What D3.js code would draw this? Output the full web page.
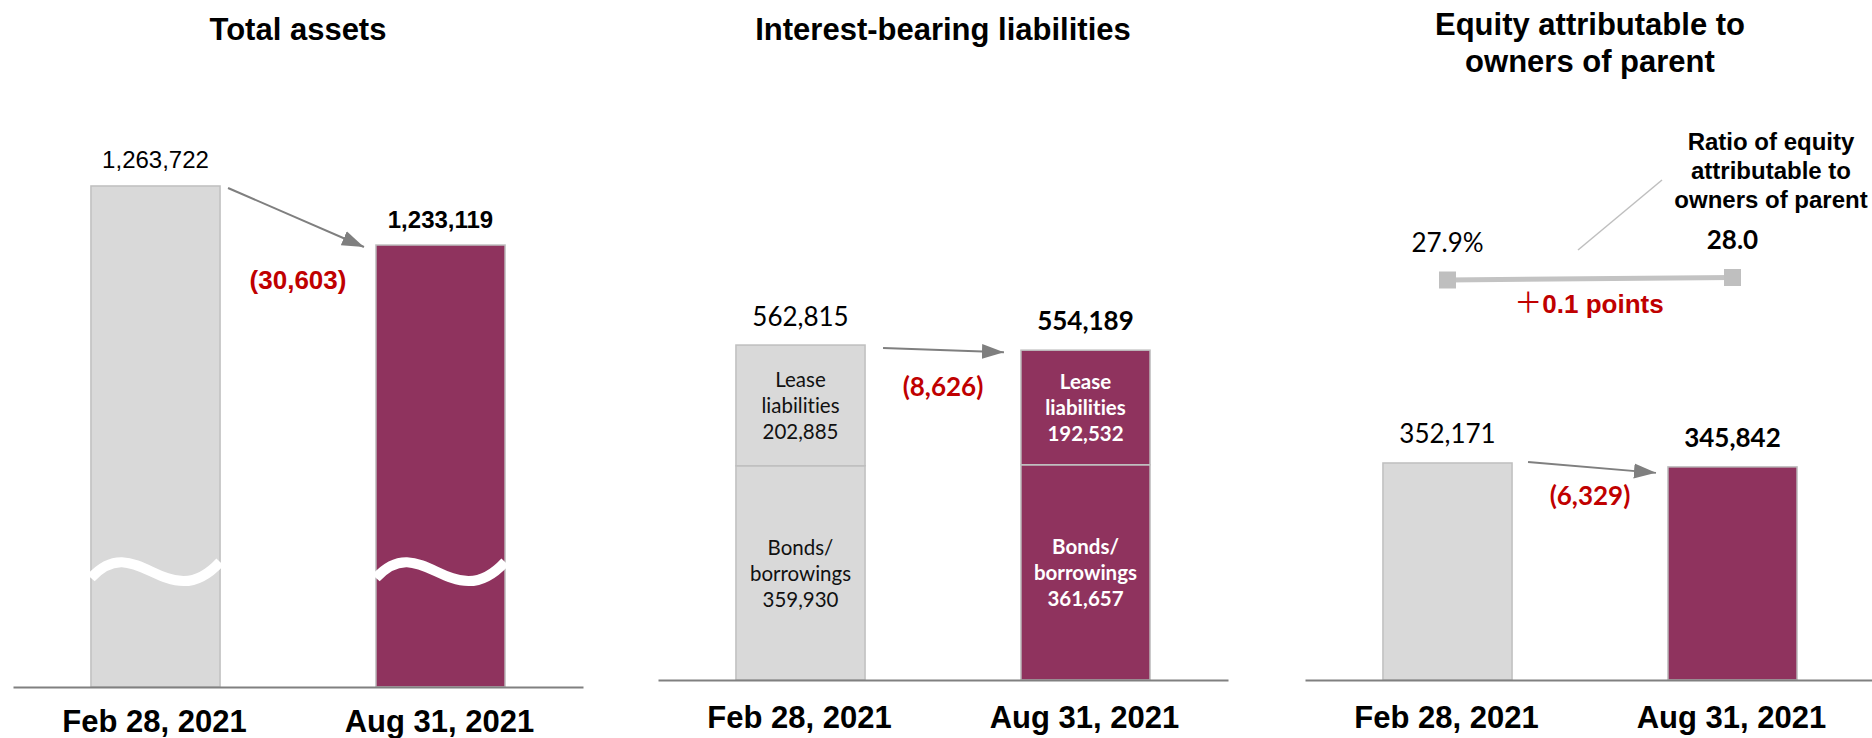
<!DOCTYPE html>
<html>
<head>
<meta charset="utf-8">
<script src="https://cdn.jsdelivr.net/npm/d3@7"></script>
<style>
  html, body { margin: 0; padding: 0; background: #fff; }
  svg { display: block; }
  text { font-variant-ligatures: none; }
</style>
</head>
<body>
<svg id="chart" width="1872" height="738"></svg>
<script>
// ---- data (millions of yen) ----
const categories = ["Feb 28, 2021", "Aug 31, 2021"];
const totalAssets = [1263722, 1233119];
const leaseLiabilities = [202885, 192532];
const bondsBorrowings = [359930, 361657];
const equityParent = [352171, 345842];
const equityRatio = [27.9, 28.0];

const panelTitles = [
  ["Total assets"],
  ["Interest-bearing liabilities"],
  ["Equity attributable to", "owners of parent"]
];
const segmentNames = { lease: ["Lease", "liabilities"], bonds: ["Bonds/", "borrowings"] };
const ratioLabel = ["Ratio of equity", "attributable to", "owners of parent"];

// ---- styles ----
const GRAY = "#d9d9d9", MAROON = "#8f335e", EDGE = "#bfbfbf", RED = "#c00000", ARROW = "#7f7f7f";
const ARIAL = "'Liberation Sans', Arial, sans-serif";
const CALIBRI = "Lato, 'Open Sans', sans-serif";
const fmt = d3.format(",");
const fmtDelta = d => (d < 0 ? "(" + fmt(-d) + ")" : "+" + fmt(d));

const svg = d3.select("#chart");
svg.append("rect").attr("width", 1872).attr("height", 738).attr("fill", "#fff");

svg.append("defs").append("marker")
  .attr("id", "head")
  .attr("markerUnits", "userSpaceOnUse")
  .attr("markerWidth", 22).attr("markerHeight", 16)
  .attr("refX", 22).attr("refY", 8)
  .attr("orient", "auto")
  .append("path").attr("d", "M0,0.5 L22,8 L0,15.5 Z").attr("fill", ARROW);

// panel layout: left edge of baseline, baseline y, arrow offsets, change-label offset
const panels = [
  { x0: 13,   axisY: 687, labelDy: 45, arrow: [8, 2, 12, 2],  deltaDy: 44, numFont: ARIAL,   numSize: 24, numDy: [-18, -17] },
  { x0: 658,  axisY: 680, labelDy: 48, arrow: [18, 3, 17, 2], deltaDy: 46, numFont: CALIBRI, numSize: 26, numDy: [-19, -20] },
  { x0: 1305, axisY: 680, labelDy: 48, arrow: [16, -1, 12, 6], deltaDy: 38, numFont: CALIBRI, numSize: 26, numDy: [-20, -20] }
];
const PANEL_W = 570;

function bandScale(p) {
  return d3.scaleBand().domain(categories)
    .range([p.x0, p.x0 + PANEL_W])
    .paddingInner(0.547).paddingOuter(0.2735);
}

function drawTitle(p, lines, firstBaseline, lineGap) {
  const t = svg.append("text")
    .attr("x", p.x0 + PANEL_W / 2).attr("y", firstBaseline)
    .attr("text-anchor", "middle")
    .attr("font-family", ARIAL).attr("font-size", 31).attr("font-weight", "bold")
    .attr("fill", "#000");
  lines.forEach((l, i) => t.append("tspan").attr("x", p.x0 + PANEL_W / 2).attr("dy", i ? lineGap : 0).text(l));
}

function drawAxis(p, x) {
  const g = svg.append("g")
    .attr("transform", `translate(0,${p.axisY})`)
    .call(d3.axisBottom(x).tickSize(0).tickSizeOuter(0).tickPadding(0));
  g.attr("font-family", ARIAL).attr("font-size", 31).attr("font-weight", "bold").attr("color", "#000");
  g.select(".domain").attr("stroke", "#808080").attr("stroke-width", 2);
  g.selectAll(".tick text").attr("dy", null).attr("y", p.labelDy).attr("x", -1);
}

function drawTotals(p, x, y, values) {
  // value labels above bars
  svg.selectAll(null).data(values).enter().append("text")
    .attr("x", (d, i) => x(categories[i]) + x.bandwidth() / 2)
    .attr("y", (d, i) => y(d) + p.numDy[i])
    .attr("text-anchor", "middle")
    .attr("font-family", p.numFont).attr("font-size", p.numSize)
    .attr("font-weight", (d, i) => (i === 1 ? "bold" : "normal"))
    .attr("fill", "#000")
    .text(d => fmt(d));

  // change arrow between bar tops
  const a = p.arrow;
  svg.append("line")
    .attr("x1", x(categories[0]) + x.bandwidth() + a[0]).attr("y1", y(values[0]) + a[1])
    .attr("x2", x(categories[1]) - a[2]).attr("y2", y(values[1]) + a[3])
    .attr("stroke", ARROW).attr("stroke-width", 2)
    .attr("marker-end", "url(#head)");

  svg.append("text")
    .attr("x", p.x0 + PANEL_W / 2).attr("y", y(values[1]) + p.deltaDy)
    .attr("text-anchor", "middle")
    .attr("font-family", p.numFont).attr("font-size", 26).attr("font-weight", "bold")
    .attr("fill", RED)
    .text(fmtDelta(values[1] - values[0]));
}

// ---------- Panel 1: total assets (broken axis) ----------
{
  const p = panels[0];
  const x = bandScale(p);
  const y = d3.scaleLinear().domain([1004000, 1300000]).range([p.axisY, 116]);
  drawTitle(p, panelTitles[0], 40, 0);

  svg.selectAll(null).data(totalAssets).enter().append("rect")
    .attr("x", (d, i) => x(categories[i]))
    .attr("y", d => y(d))
    .attr("width", x.bandwidth())
    .attr("height", d => p.axisY - y(d))
    .attr("fill", (d, i) => (i ? MAROON : GRAY))
    .attr("stroke", EDGE).attr("stroke-width", 1.5);

  // break marks
  const cy = p.axisY - 115;
  categories.forEach(c => {
    const xl = x(c), w = x.bandwidth(), xr = xl + w;
    const path = d3.path();
    path.moveTo(xl, cy + 6);
    path.bezierCurveTo(xl + 0.35 * w, cy - 44, xl + 0.6 * w, cy + 46, xr, cy - 10);
    svg.append("path").attr("d", path.toString())
      .attr("fill", "none").attr("stroke", "#fff").attr("stroke-width", 10);
  });

  drawAxis(p, x);
  drawTotals(p, x, y, totalAssets);
}

// ---------- Panel 2: interest-bearing liabilities (stacked) ----------
{
  const p = panels[1];
  const x = bandScale(p);
  const y = d3.scaleLinear().domain([0, 600000]).range([p.axisY, 322.9]);
  drawTitle(p, panelTitles[1], 40, 0);

  const rows = categories.map((c, i) => ({ category: c, bonds: bondsBorrowings[i], lease: leaseLiabilities[i] }));
  const series = d3.stack().keys(["bonds", "lease"])(rows);

  series.forEach(s => {
    s.forEach((seg, i) => {
      const top = y(seg[1]), bottom = y(seg[0]);
      const cx = x(categories[i]) + x.bandwidth() / 2;
      svg.append("rect")
        .attr("x", x(categories[i])).attr("y", top)
        .attr("width", x.bandwidth()).attr("height", bottom - top)
        .attr("fill", i ? MAROON : GRAY)
        .attr("stroke", EDGE).attr("stroke-width", 1.5);
      const mid = (top + bottom) / 2 + 8;
      const lines = segmentNames[s.key].concat([fmt(seg[1] - seg[0])]);
      svg.selectAll(null).data(lines).enter().append("text")
        .attr("x", cx).attr("y", (d, k) => mid + (k - 1) * 26)
        .attr("text-anchor", "middle")
        .attr("font-family", CALIBRI).attr("font-size", 20.5)
        .attr("font-weight", i ? "bold" : "normal")
        .attr("fill", i ? "#fff" : "#111")
        .text(d => d);
    });
  });

  drawAxis(p, x);
  const totals = categories.map((c, i) => leaseLiabilities[i] + bondsBorrowings[i]);
  drawTotals(p, x, y, totals);
}

// ---------- Panel 3: equity attributable to owners of parent ----------
{
  const p = panels[2];
  const x = bandScale(p);
  const y = d3.scaleLinear().domain([0, 400000]).range([p.axisY, 433.5]);
  drawTitle(p, panelTitles[2], 35, 37);

  svg.selectAll(null).data(equityParent).enter().append("rect")
    .attr("x", (d, i) => x(categories[i]))
    .attr("y", d => y(d))
    .attr("width", x.bandwidth())
    .attr("height", d => p.axisY - y(d))
    .attr("fill", (d, i) => (i ? MAROON : GRAY))
    .attr("stroke", EDGE).attr("stroke-width", 1.5);

  drawAxis(p, x);
  drawTotals(p, x, y, equityParent);

  // equity ratio line
  const yr = d3.scaleLinear().domain([27, 29]).range([302.5, 252.5]);
  const pts = equityRatio.map((r, i) => [x(categories[i]) + x.bandwidth() / 2, yr(r)]);
  svg.append("path").attr("d", d3.line()(pts))
    .attr("stroke", "#c3c3c3").attr("stroke-width", 5).attr("fill", "none");
  svg.selectAll(null).data(pts).enter().append("rect")
    .attr("x", d => d[0] - 8.5).attr("y", d => d[1] - 8.5)
    .attr("width", 17).attr("height", 17)
    .attr("fill", "#bfbfbf");

  const fmtR = d3.format(".1f");
  svg.selectAll(null).data(equityRatio).enter().append("text")
    .attr("x", (d, i) => pts[i][0]).attr("y", (d, i) => pts[i][1] - 28.5)
    .attr("text-anchor", "middle")
    .attr("font-family", CALIBRI).attr("font-size", 26)
    .attr("font-weight", (d, i) => (i ? "bold" : "normal"))
    .attr("fill", "#000")
    .text((d, i) => (i ? fmtR(d) : fmtR(d) + "%"));

  const midY = (pts[0][1] + pts[1][1]) / 2;
  const t = svg.append("text")
    .attr("x", p.x0 + PANEL_W / 2 - 1).attr("y", midY + 34)
    .attr("text-anchor", "middle")
    .attr("font-family", ARIAL).attr("font-size", 26).attr("font-weight", "bold")
    .attr("fill", RED);
  t.append("tspan").attr("font-family", "'Noto Sans CJK JP', sans-serif").attr("font-weight", "normal").attr("font-size", 28).text("＋");
  t.append("tspan").text(fmtR(equityRatio[1] - equityRatio[0]) + " points");

  // leader to ratio caption
  svg.append("line")
    .attr("x1", p.x0 + 273).attr("y1", 250)
    .attr("x2", p.x0 + 357).attr("y2", 180)
    .attr("stroke", "#bfbfbf").attr("stroke-width", 1.5);

  svg.selectAll(null).data(ratioLabel).enter().append("text")
    .attr("x", p.x0 + 466).attr("y", (d, i) => 150 + i * 29)
    .attr("text-anchor", "middle")
    .attr("font-family", ARIAL).attr("font-size", 24).attr("font-weight", "bold")
    .attr("fill", "#000")
    .text(d => d);
}
</script>
</body>
</html>
